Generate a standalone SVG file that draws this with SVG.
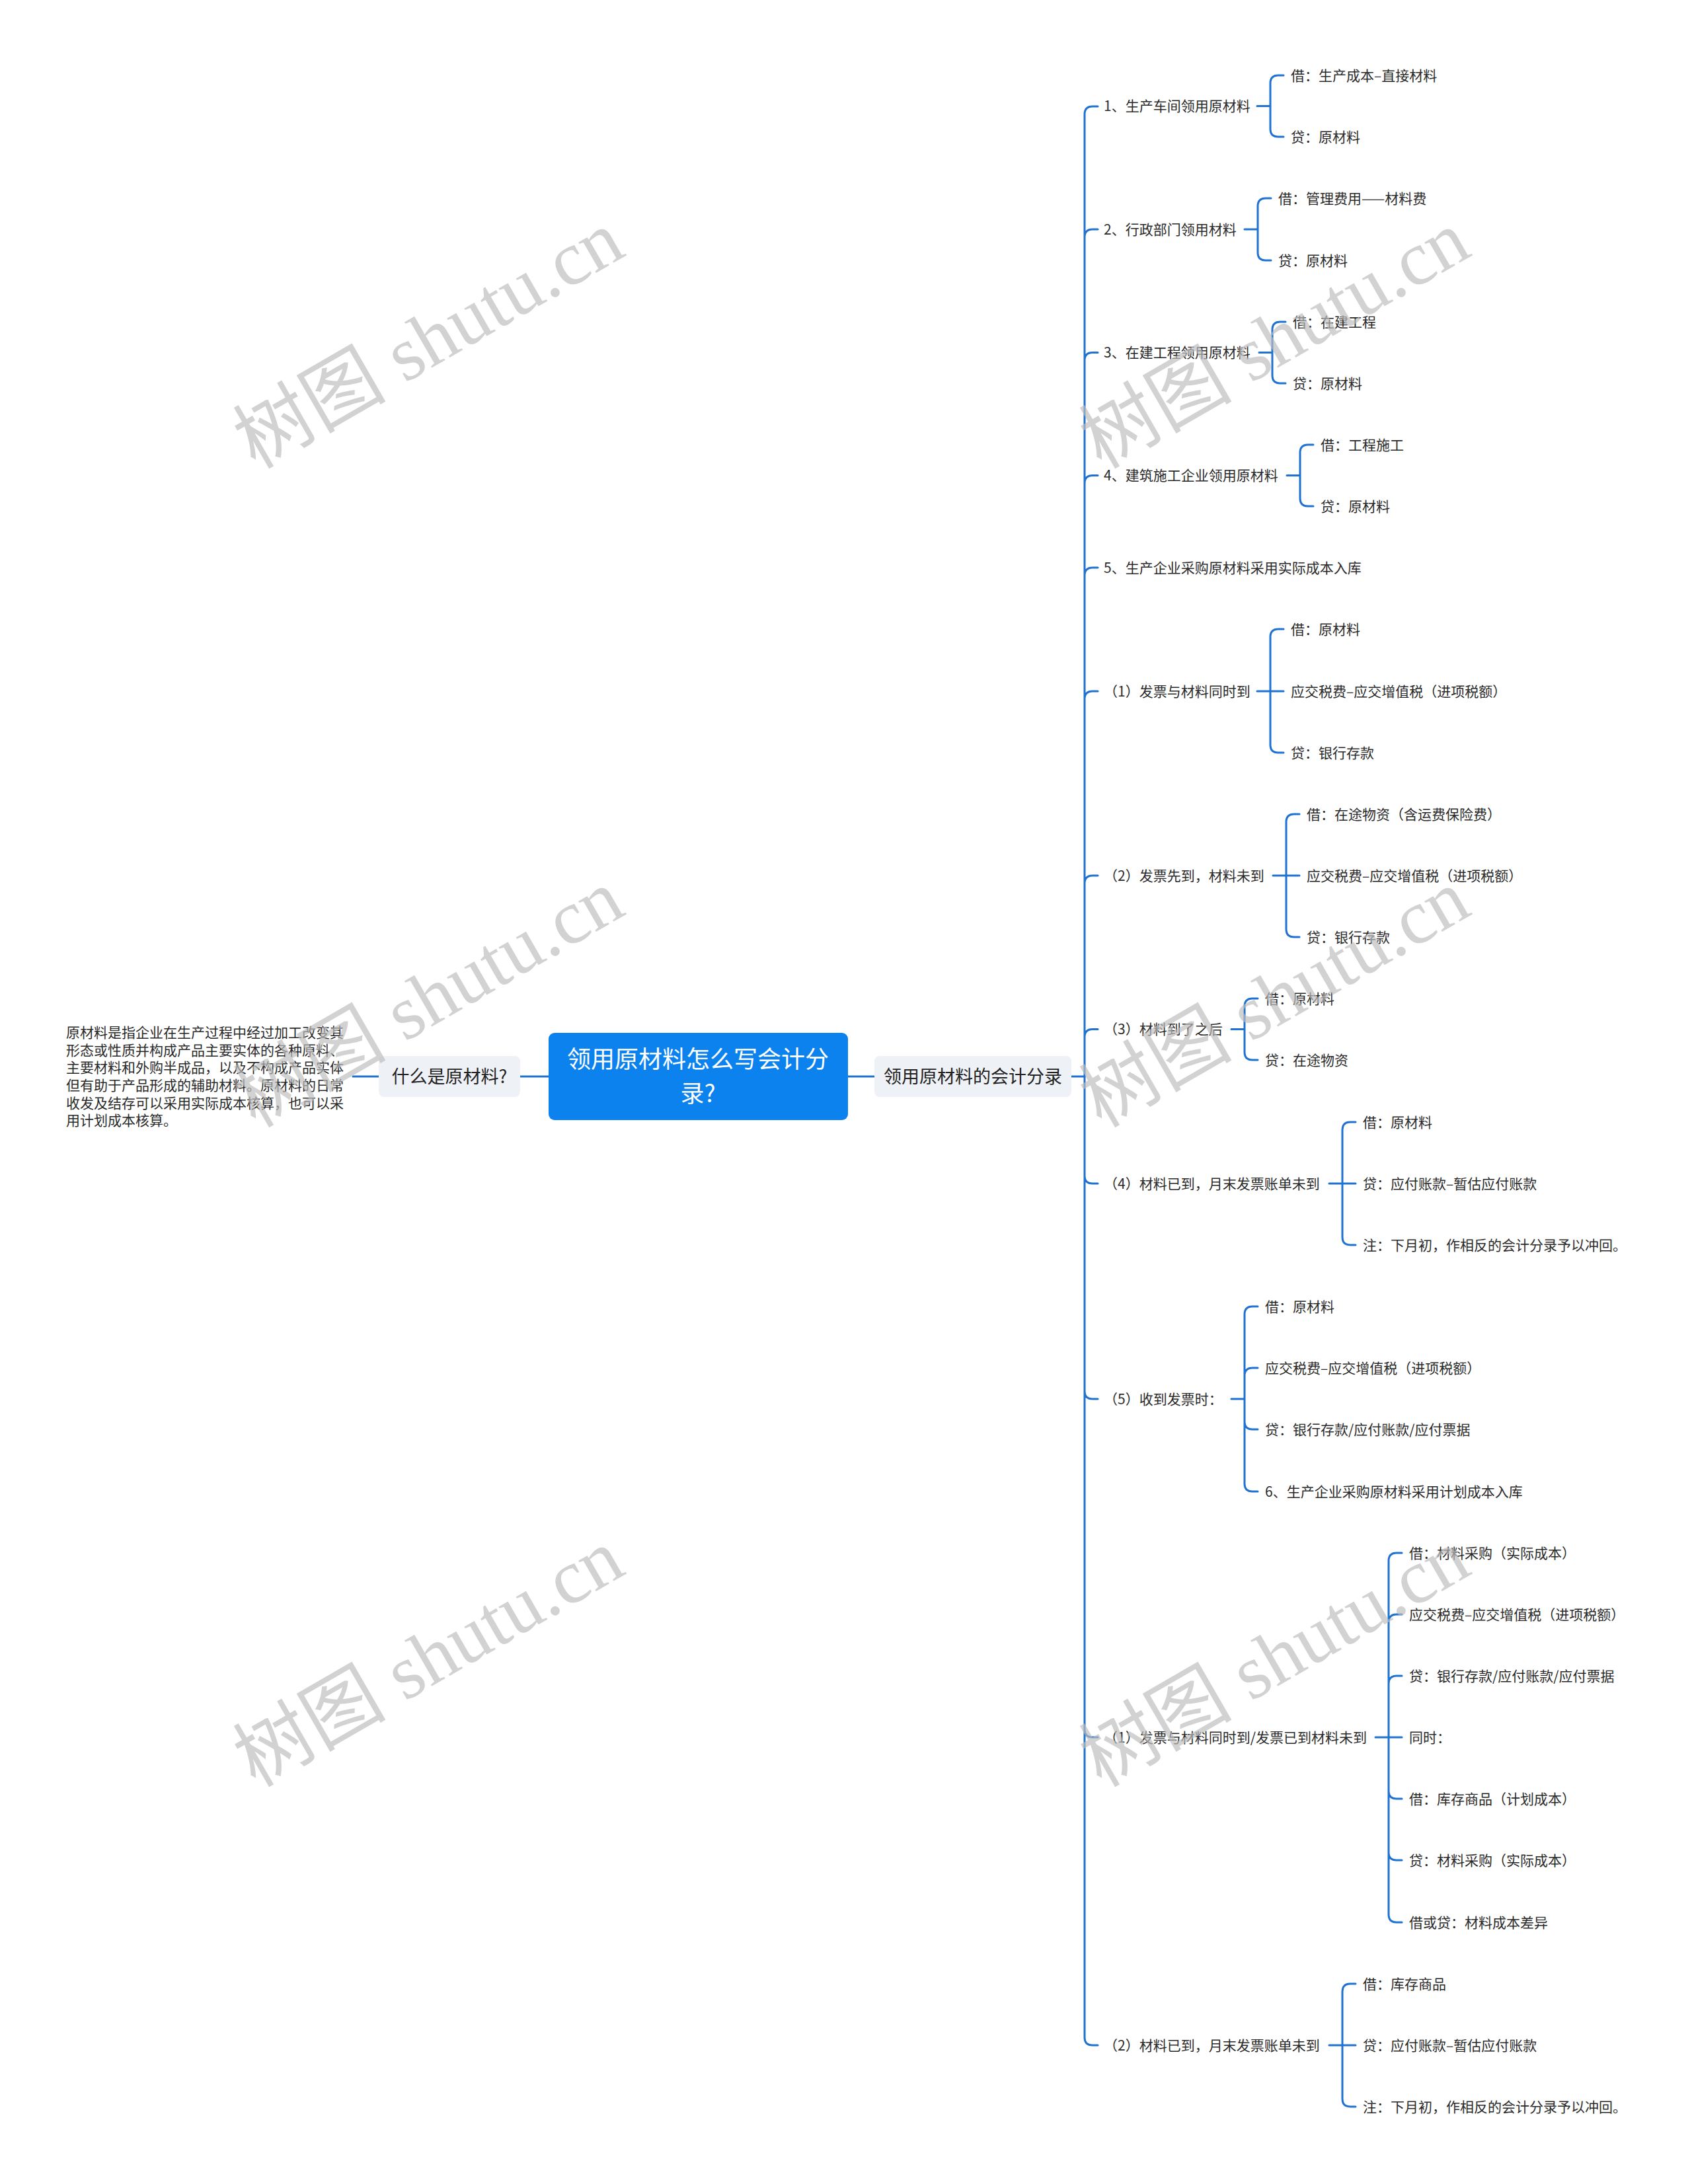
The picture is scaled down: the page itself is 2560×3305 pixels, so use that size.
<svg xmlns="http://www.w3.org/2000/svg" width="2560" height="3305" viewBox="0 0 2560 3305">
<style>
text{font-family:"Noto Sans CJK SC","Noto Sans",sans-serif;fill:#2a2a2a}
.t{font-size:21px}
.b{font-size:27px;fill:#222}
.c{font-size:36px;fill:#ffffff}
.d{font-size:21px}
.mid{text-anchor:middle}
.conn path{fill:none;stroke:#1f72d2;stroke-width:3;stroke-linecap:round}
.wm{font-family:"Liberation Serif","Noto Sans CJK SC",serif;font-size:116px;fill:#bdbdbd;opacity:0.68;text-anchor:middle}
</style>
<rect width="2560" height="3305" fill="#ffffff"/>

<g id="connectors" class="conn">
<path d="M534 1629H573M787 1629H830M1283 1629H1323M1621 1629H1641"/>
<path d="M1641 1629V173Q1641 161 1653 161H1661M1641 1629V359Q1641 347 1653 347H1661M1641 1629V545.5Q1641 533.5 1653 533.5H1661M1641 1629V731.5Q1641 719.5 1653 719.5H1661M1641 1629V871Q1641 859 1653 859H1661M1641 1629V1058Q1641 1046 1653 1046H1661M1641 1629V1337Q1641 1325 1653 1325H1661M1641 1629V1569.5Q1641 1557.5 1653 1557.5H1661M1641 1629V1779Q1641 1791 1653 1791H1661M1641 1629V2105Q1641 2117 1653 2117H1661M1641 1629V2617Q1641 2629 1653 2629H1661M1641 1629V3083Q1641 3095 1653 3095H1661"/>
<path d="M1902 160.5H1922M1922 160.5V126Q1922 114 1934 114H1942M1922 160.5V195Q1922 207 1934 207H1942"/>
<path d="M1883 347H1903M1903 347V312Q1903 300 1915 300H1923M1903 347V382Q1903 394 1915 394H1923"/>
<path d="M1905 533.5H1925M1925 533.5V499Q1925 487 1937 487H1945M1925 533.5V568Q1925 580 1937 580H1945"/>
<path d="M1947 719.5H1967M1967 719.5V685Q1967 673 1979 673H1987M1967 719.5V754Q1967 766 1979 766H1987"/>
<path d="M1902 1046H1942M1922 1046V964Q1922 952 1934 952H1942M1922 1046V1127Q1922 1139 1934 1139H1942"/>
<path d="M1926 1325H1966M1946 1325V1244Q1946 1232 1958 1232H1966M1946 1325V1406Q1946 1418 1958 1418H1966"/>
<path d="M1863 1557.5H1883M1883 1557.5V1523Q1883 1511 1895 1511H1903M1883 1557.5V1592Q1883 1604 1895 1604H1903"/>
<path d="M2011 1791H2051M2031 1791V1710Q2031 1698 2043 1698H2051M2031 1791V1872Q2031 1884 2043 1884H2051"/>
<path d="M1863 2117H1883M1883 2117V1989Q1883 1977 1895 1977H1903M1883 2117V2082Q1883 2070 1895 2070H1903M1883 2117V2151Q1883 2163 1895 2163H1903M1883 2117V2245Q1883 2257 1895 2257H1903"/>
<path d="M2081 2629H2121M2101 2629V2362Q2101 2350 2113 2350H2121M2101 2629V2455Q2101 2443 2113 2443H2121M2101 2629V2548Q2101 2536 2113 2536H2121M2101 2629V2710Q2101 2722 2113 2722H2121M2101 2629V2803Q2101 2815 2113 2815H2121M2101 2629V2897Q2101 2909 2113 2909H2121"/>
<path d="M2011 3095H2051M2031 3095V3014Q2031 3002 2043 3002H2051M2031 3095V3176Q2031 3188 2043 3188H2051"/>
</g>

<g id="root">
<rect x="830" y="1563" width="453" height="132" rx="9" fill="#0c82ee"/>
<text class="c mid" x="1056" y="1616">领用原材料怎么写会计分</text>
<text class="c mid" x="1056" y="1668">录?</text>
</g>

<g id="what">
<rect x="573" y="1598" width="214" height="62" rx="8" fill="#eef1f5"/>
<text class="b mid" x="680" y="1639">什么是原材料?</text>
</g>

<g id="desc">
<text class="d" x="100" y="1570">原材料是指企业在生产过程中经过加工改变其</text>
<text class="d" x="100" y="1596.5">形态或性质并构成产品主要实体的各种原料、</text>
<text class="d" x="100" y="1623">主要材料和外购半成品，以及不构成产品实体</text>
<text class="d" x="100" y="1650">但有助于产品形成的辅助材料。原材料的日常</text>
<text class="d" x="100" y="1676.5">收发及结存可以采用实际成本核算，也可以采</text>
<text class="d" x="100" y="1703">用计划成本核算。</text>
</g>

<g id="entries">
<rect x="1323" y="1598" width="298" height="62" rx="8" fill="#eef1f5"/>
<text class="b mid" x="1472" y="1639">领用原材料的会计分录</text>
</g>

<g id="g1">
<text class="t" x="1670" y="168">1、生产车间领用原材料</text>
<text class="t" x="1953" y="121.5">借：生产成本–直接材料</text>
<text class="t" x="1953" y="214.5">贷：原材料</text>
</g>
<g id="g2">
<text class="t" x="1670" y="354.5">2、行政部门领用材料</text>
<text class="t" x="1934" y="307.5">借：管理费用——材料费</text>
<text class="t" x="1934" y="401.5">贷：原材料</text>
</g>
<g id="g3">
<text class="t" x="1670" y="541">3、在建工程领用原材料</text>
<text class="t" x="1956" y="494.5">借：在建工程</text>
<text class="t" x="1956" y="587.5">贷：原材料</text>
</g>
<g id="g4">
<text class="t" x="1670" y="727">4、建筑施工企业领用原材料</text>
<text class="t" x="1998" y="680.5">借：工程施工</text>
<text class="t" x="1998" y="773.5">贷：原材料</text>
</g>
<g id="g5">
<text class="t" x="1670" y="866.5">5、生产企业采购原材料采用实际成本入库</text>
</g>
<g id="p1">
<text class="t" x="1670" y="1053.5">（1）发票与材料同时到</text>
<text class="t" x="1953" y="959.5">借：原材料</text>
<text class="t" x="1953" y="1053.5">应交税费–应交增值税（进项税额）</text>
<text class="t" x="1953" y="1146.5">贷：银行存款</text>
</g>
<g id="p2">
<text class="t" x="1670" y="1332.5">（2）发票先到，材料未到</text>
<text class="t" x="1977" y="1239.5">借：在途物资（含运费保险费）</text>
<text class="t" x="1977" y="1332.5">应交税费–应交增值税（进项税额）</text>
<text class="t" x="1977" y="1425.5">贷：银行存款</text>
</g>
<g id="p3">
<text class="t" x="1670" y="1565">（3）材料到了之后</text>
<text class="t" x="1914" y="1518.5">借：原材料</text>
<text class="t" x="1914" y="1611.5">贷：在途物资</text>
</g>
<g id="p4">
<text class="t" x="1670" y="1798.5">（4）材料已到，月末发票账单未到</text>
<text class="t" x="2062" y="1705.5">借：原材料</text>
<text class="t" x="2062" y="1798.5">贷：应付账款–暂估应付账款</text>
<text class="t" x="2062" y="1891.5">注：下月初，作相反的会计分录予以冲回。</text>
</g>
<g id="p5">
<text class="t" x="1670" y="2124.5">（5）收到发票时：</text>
<text class="t" x="1914" y="1984.5">借：原材料</text>
<text class="t" x="1914" y="2077.5">应交税费–应交增值税（进项税额）</text>
<text class="t" x="1914" y="2170.5">贷：银行存款/应付账款/应付票据</text>
<text class="t" x="1914" y="2264.5">6、生产企业采购原材料采用计划成本入库</text>
</g>
<g id="q1">
<text class="t" x="1670" y="2636.5">（1）发票与材料同时到/发票已到材料未到</text>
<text class="t" x="2132" y="2357.5">借：材料采购（实际成本）</text>
<text class="t" x="2132" y="2450.5">应交税费–应交增值税（进项税额）</text>
<text class="t" x="2132" y="2543.5">贷：银行存款/应付账款/应付票据</text>
<text class="t" x="2132" y="2636.5">同时：</text>
<text class="t" x="2132" y="2729.5">借：库存商品（计划成本）</text>
<text class="t" x="2132" y="2822.5">贷：材料采购（实际成本）</text>
<text class="t" x="2132" y="2916.5">借或贷：材料成本差异</text>
</g>
<g id="q2">
<text class="t" x="1670" y="3102.5">（2）材料已到，月末发票账单未到</text>
<text class="t" x="2062" y="3009.5">借：库存商品</text>
<text class="t" x="2062" y="3102.5">贷：应付账款–暂估应付账款</text>
<text class="t" x="2062" y="3195.5">注：下月初，作相反的会计分录予以冲回。</text>
</g>

<g id="watermarks">
<text class="wm" x="668" y="548" transform="rotate(-30 668 548)">树图 shutu.cn</text>
<text class="wm" x="668" y="1545" transform="rotate(-30 668 1545)">树图 shutu.cn</text>
<text class="wm" x="668" y="2543" transform="rotate(-30 668 2543)">树图 shutu.cn</text>
<text class="wm" x="1948" y="548" transform="rotate(-30 1948 548)">树图 shutu.cn</text>
<text class="wm" x="1948" y="1545" transform="rotate(-30 1948 1545)">树图 shutu.cn</text>
<text class="wm" x="1948" y="2543" transform="rotate(-30 1948 2543)">树图 shutu.cn</text>
</g>
</svg>
